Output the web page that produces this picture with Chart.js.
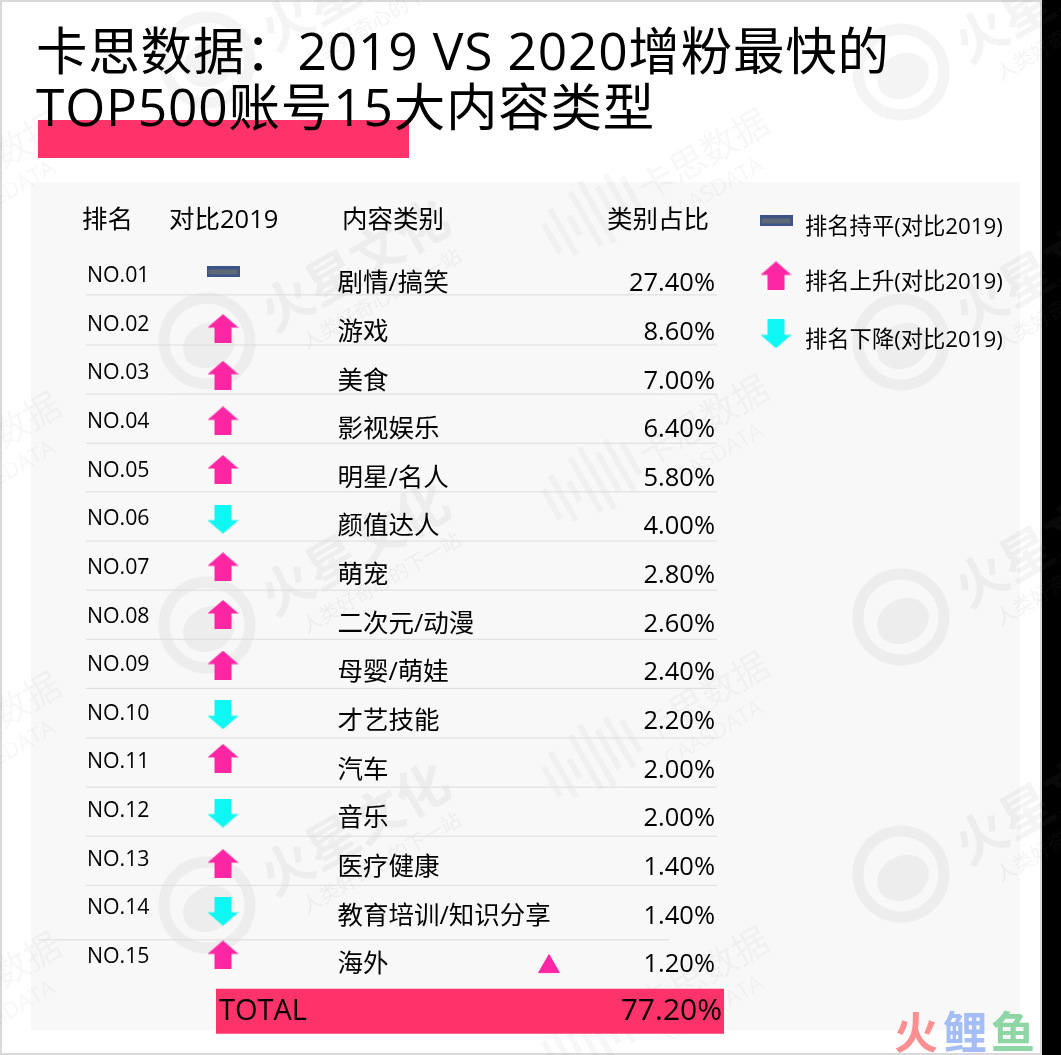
<!DOCTYPE html>
<html lang="zh">
<head>
<meta charset="utf-8">
<title>卡思数据</title>
<script src="https://cdn.jsdelivr.net/npm/chart.js@4/dist/chart.umd.min.js"></script>
<style>
  html, body { margin: 0; padding: 0; background: #000; }
  canvas { display: block; }
</style>
</head>
<body>
<canvas id="chart" width="1061" height="1055"></canvas>
<script>
// --- DATA ---
const titleLines = ['卡思数据：2019 VS 2020增粉最快的', 'TOP500账号15大内容类型'];
const headers = ['排名', '对比2019', '内容类别', '类别占比'];
const ranks = [1, 2, 3, 4, 5, 6, 7, 8, 9, 10, 11, 12, 13, 14, 15];
const rankLabels = ['NO.01', 'NO.02', 'NO.03', 'NO.04', 'NO.05', 'NO.06', 'NO.07', 'NO.08', 'NO.09', 'NO.10', 'NO.11', 'NO.12', 'NO.13', 'NO.14', 'NO.15'];
const trends = ['flat', 'up', 'up', 'up', 'up', 'down', 'up', 'up', 'up', 'down', 'up', 'down', 'up', 'down', 'up'];
const categories = ['剧情/搞笑', '游戏', '美食', '影视娱乐', '明星/名人', '颜值达人', '萌宠', '二次元/动漫', '母婴/萌娃', '才艺技能', '汽车', '音乐', '医疗健康', '教育培训/知识分享', '海外'];
const shares = [27.4, 8.6, 7.0, 6.4, 5.8, 4.0, 2.8, 2.6, 2.4, 2.2, 2.0, 2.0, 1.4, 1.4, 1.2];
const totalLabel = 'TOTAL';
const totalShare = 77.2;
const legendTrends = ['flat', 'up', 'down'];
const legendLabels = ['排名持平(对比2019)', '排名上升(对比2019)', '排名下降(对比2019)'];

// --- LAYOUT (the x scale runs in page px, the y scale in table rows) ---
const FONT = '"Open Sans", "Noto Sans CJK SC", sans-serif';
const ROW = 48.64;
const arrowNudge = [-2, 6, 4, 1, 1, 2, 1, 0, 2, 3, -2, 4, 6, 5, 0];
const ruleRanks = [1.43, 2.46, 3.47, 4.48, 5.48, 6.49, 7.5, 8.51, 9.52, 10.54, 11.55, 12.56, 13.57];
const lastRuleRank = 14.69;
const headerRank = -0.1;
const headerX = [82, 169, 342, 607];
const legendRanks = [-0.09, 1.04, 2.23];
const totalRank = 16.16;

// --- ICONS ---
function makeIcon(w, h, paint) {
    const c = document.createElement('canvas');
    c.width = w;
    c.height = h;
    paint(c.getContext('2d'), w, h);
    return c;
}

function arrowPath(ctx, w, h, flip) {
    const y = v => flip ? h - v : v;
    ctx.beginPath();
    ctx.moveTo(w / 2, y(0));
    ctx.lineTo(w, y(13.5));
    ctx.lineTo(w - 7, y(13.5));
    ctx.lineTo(w - 7, y(h));
    ctx.lineTo(7, y(h));
    ctx.lineTo(7, y(13.5));
    ctx.lineTo(0, y(13.5));
    ctx.closePath();
    ctx.fill();
}

const icons = {
    up: makeIcon(31, 29, (ctx, w, h) => { ctx.fillStyle = '#ff26a4'; arrowPath(ctx, w, h, false); }),
    down: makeIcon(31, 29, (ctx, w, h) => { ctx.fillStyle = '#0ff7f2'; arrowPath(ctx, w, h, true); }),
    flat: makeIcon(33, 11, (ctx, w, h) => {
        ctx.fillStyle = '#3c5488';
        ctx.fillRect(0, 0, w, h);
        ctx.fillStyle = '#5f6875';
        ctx.fillRect(2, 3, w - 4, h - 6);
    })
};

// --- WATERMARKS ---
function drawHuoxing(ctx, cx, cy) {
    ctx.save();
    ctx.translate(cx, cy);
    ctx.strokeStyle = 'rgba(120,120,120,0.08)';
    ctx.fillStyle = 'rgba(120,120,120,0.08)';
    ctx.lineWidth = 11;
    ctx.beginPath();
    ctx.arc(0, 0, 43, 0, Math.PI * 2);
    ctx.stroke();
    ctx.beginPath();
    ctx.ellipse(2, 4, 27, 22, -0.5, 0, Math.PI * 2);
    ctx.fill();
    ctx.rotate(-Math.PI / 6);
    ctx.textBaseline = 'middle';
    ctx.textAlign = 'left';
    ctx.font = '700 52px ' + FONT;
    ctx.fillText('火星文化', 62, 12);
    ctx.font = '20px ' + FONT;
    ctx.fillText('人类好奇心的下一站', 82, 52);
    ctx.restore();
}

function drawKasi(ctx, cx, cy) {
    ctx.save();
    ctx.translate(cx, cy);
    ctx.rotate(-Math.PI / 6);
    ctx.fillStyle = 'rgba(120,120,120,0.06)';
    [34, 52, 22, 62, 70, 44, 58, 36].forEach((len, i) => {
        ctx.fillRect(-100 + i * 13, -len / 2 - 14, 6, len);
    });
    ctx.textBaseline = 'middle';
    ctx.textAlign = 'left';
    ctx.font = '36px ' + FONT;
    ctx.fillText('卡思数据', 4, -8);
    ctx.font = '22px ' + FONT;
    ctx.fillText('CAASDATA', 12, 26);
    ctx.restore();
}

const backdropPlugin = {
    id: 'backdrop',
    beforeDraw(chart) {
        const ctx = chart.ctx;
        ctx.save();
        ctx.fillStyle = '#000';
        ctx.fillRect(0, 0, 1061, 1055);
        ctx.fillStyle = '#d9d9d9';
        ctx.fillRect(0, 0, 1042, 1055);
        ctx.fillStyle = '#fff';
        ctx.fillRect(2, 2, 1038, 1051);
        ctx.fillStyle = '#f8f8f8';
        ctx.fillRect(31, 182, 989, 848);

        [[207, 60], [207, 341], [207, 625], [207, 905], [901, 72], [901, 342], [901, 617], [901, 874]].forEach(p => drawHuoxing(ctx, p[0], p[1]));
        [[643, 202], [643, 468], [643, 745], [643, 1020], [-65, 205], [-65, 485], [-65, 765], [-65, 1025]].forEach(p => drawKasi(ctx, p[0], p[1]));

        // bar behind the title
        ctx.fillStyle = '#fe3369';
        ctx.fillRect(38, 120, 371, 38);
        ctx.restore();

        // the Latin part of the title runs a little wider in the original
        ctx.letterSpacing = '0.8px';
    },
    beforeDatasetsDraw(chart) {
        chart.ctx.letterSpacing = '0px';
    }
};

// --- TEXT OF THE TABLE ---
const tablePlugin = {
    id: 'tableText',
    afterDatasetsDraw(chart) {
        const { ctx, scales: { x, y } } = chart;
        const put = (text, px, py, size, align) => {
            ctx.font = size + 'px ' + FONT;
            ctx.textAlign = align || 'left';
            ctx.fillText(text, px, py);
        };
        ctx.save();
        ctx.fillStyle = '#000';
        ctx.textBaseline = 'middle';

        headers.forEach((h, i) => put(h, x.getPixelForValue(headerX[i]), y.getPixelForValue(headerRank), 25.5));
        ranks.forEach((r, i) => {
            const rowY = y.getPixelForValue(r);
            put(rankLabels[i], x.getPixelForValue(87), rowY + 2, 21.3);
            put(categories[i], x.getPixelForValue(337.5), rowY + 10, 25.5);
            put(shares[i].toFixed(2) + '%', x.getPixelForValue(715), rowY + 10, 25.5, 'right');
        });
        legendLabels.forEach((l, i) => put(l, x.getPixelForValue(805), y.getPixelForValue(legendRanks[i]) + 7, 22.3));

        const totalY = y.getPixelForValue(totalRank);
        put(totalLabel, x.getPixelForValue(219), totalY, 29);
        put(totalShare.toFixed(2) + '%', x.getPixelForValue(722), totalY, 30, 'right');

        // logo in the bottom corner
        ctx.font = '700 44px "Noto Sans CJK SC", sans-serif';
        ctx.textAlign = 'center';
        ctx.fillStyle = '#ff8f90';
        ctx.fillText('火', 916, 1032);
        ctx.fillStyle = '#a4bdf6';
        ctx.fillText('鲤', 965, 1032);
        ctx.fillStyle = '#8ed6a6';
        ctx.fillText('鱼', 1013, 1032);
        ctx.restore();
    }
};

// --- DATASETS ---
function ruleDataset(xFrom, xTo, rank) {
    return {
        data: [{ x: xFrom, y: rank }, { x: xTo, y: rank }],
        showLine: true,
        borderColor: '#dcdcdc',
        borderWidth: 1,
        pointRadius: 0
    };
}

const datasets = [
    ...ruleRanks.map(r => ruleDataset(86, 717, r)),
    ruleDataset(38, 670, lastRuleRank),
    {
        // TOTAL band
        data: [{ x: 216, y: totalRank }, { x: 724, y: totalRank }],
        showLine: true,
        borderColor: '#fe3369',
        borderWidth: 45,
        borderCapStyle: 'butt',
        pointRadius: 0
    },
    {
        // trend arrow of each row
        data: ranks.map((r, i) => ({ x: 223, y: r + arrowNudge[i] / ROW })),
        pointStyle: trends.map(t => icons[t]),
        pointRadius: 15
    },
    {
        // legend keys
        data: legendTrends.map((t, i) => ({ x: 776, y: legendRanks[i] })),
        pointStyle: legendTrends.map(t => icons[t]),
        pointRadius: 15
    },
    {
        // stray triangle next to the last row
        data: [{ x: 549, y: 15.24 }],
        pointStyle: 'triangle',
        pointRadius: 12,
        backgroundColor: '#ff26a4',
        borderColor: '#ff26a4'
    }
];

new Chart(document.getElementById('chart'), {
    type: 'scatter',
    data: { datasets },
    plugins: [backdropPlugin, tablePlugin],
    options: {
        responsive: false,
        animation: false,
        devicePixelRatio: 1,
        layout: { autoPadding: false, padding: { left: 36 } },
        plugins: {
            legend: { display: false },
            tooltip: { enabled: false },
            title: {
                display: true,
                text: titleLines,
                align: 'start',
                color: '#000',
                font: { family: FONT, size: 51.5, weight: 'normal', lineHeight: 1.087 },
                padding: { top: 27, bottom: 39 }
            }
        },
        scales: {
            x: { type: 'linear', display: false, min: 36, max: 1061 },
            y: { type: 'linear', display: false, reverse: true, min: -0.974, max: 17.057 }
        }
    }
});
</script>
</body>
</html>
